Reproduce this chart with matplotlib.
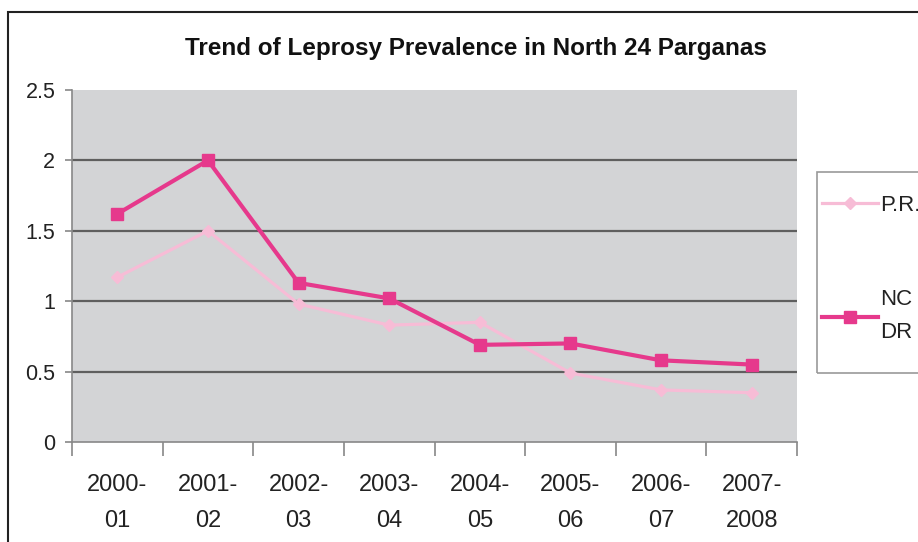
import matplotlib
matplotlib.use("Agg")
import matplotlib.pyplot as plt
from matplotlib.patches import Rectangle

years = ["2000-\n01", "2001-\n02", "2002-\n03", "2003-\n04", "2004-\n05", "2005-\n06", "2006-\n07", "2007-\n2008"]
pr = [1.17, 1.50, 0.98, 0.83, 0.85, 0.49, 0.37, 0.35]
ncdr = [1.62, 2.00, 1.13, 1.02, 0.69, 0.70, 0.58, 0.55]

plt.rcParams['font.family'] = ['Liberation Sans', 'DejaVu Sans']

W, H = 918, 542
fig = plt.figure(figsize=(W / 100, H / 100), dpi=100)
fig.patch.set_facecolor("white")

# outer chart frame (cropped on right and bottom in the original)
fig.patches.append(Rectangle((8 / W, -0.1), 1.2, 1.078, transform=fig.transFigure,
                             fill=False, edgecolor="#222222", linewidth=1.5))
# legend box, also cropped at the right edge
fig.patches.append(Rectangle((817 / W, 1 - 373 / H), 0.3, 201 / H, transform=fig.transFigure,
                             fill=False, edgecolor="#999999", linewidth=1.2))

ax = fig.add_axes([72 / W, 1 - 442 / H, 725 / W, 352 / H])
ax.set_facecolor("#d3d4d6")

x = list(range(len(years)))
l1, = ax.plot(x, pr, color="#f7bcd6", linewidth=2.3, marker="D", markersize=6, label="P.R.", zorder=3)
l2, = ax.plot(x, ncdr, color="#e6398c", linewidth=3, marker="s", markersize=9, label="NC\nDR", zorder=4)

ax.set_xlim(-0.5, len(years) - 0.5)
ax.set_ylim(0, 2.5)
ax.set_yticks([0, 0.5, 1, 1.5, 2, 2.5])
ax.set_yticklabels(["0", "0.5", "1", "1.5", "2", "2.5"], fontsize=15.5, color="#222222")
for v in [0.5, 1, 1.5, 2]:
    ax.axhline(v, color="#5f5f5f", linewidth=1.6, zorder=1)

ax.set_xticks([i - 0.5 for i in range(len(years) + 1)])
ax.set_xticklabels([])
ax.set_xticks(x, minor=True)
ax.set_xticklabels(years, minor=True, fontsize=17, linespacing=1.8, color="#222222")
ax.tick_params(axis="x", which="minor", length=0, pad=23)
ax.tick_params(axis="x", which="major", length=10, color="#888888", width=1.2)
ax.tick_params(axis="y", length=5, color="#888888", width=1.2, pad=7)

for s in ["top", "right"]:
    ax.spines[s].set_visible(False)
ax.spines["left"].set_color("#888888")
ax.spines["bottom"].set_color("#888888")
ax.spines["left"].set_linewidth(1.2)
ax.spines["bottom"].set_linewidth(1.2)

fig.text(476 / W, 1 - 48 / H, "Trend of Leprosy Prevalence in North 24 Parganas",
         ha="center", va="center", fontsize=17.5, fontweight="bold", color="#111111")

leg = fig.legend(handles=[l1, l2], loc="upper left", bbox_to_anchor=(822 / W, 1 - 195 / H),
                 fontsize=16, frameon=False, labelspacing=3.3, handlelength=2.5,
                 handletextpad=0.1, borderpad=0, borderaxespad=0, labelcolor="#222222")
leg.get_texts()[1].set_linespacing(1.75)

fig.savefig("out.png", dpi=100)
